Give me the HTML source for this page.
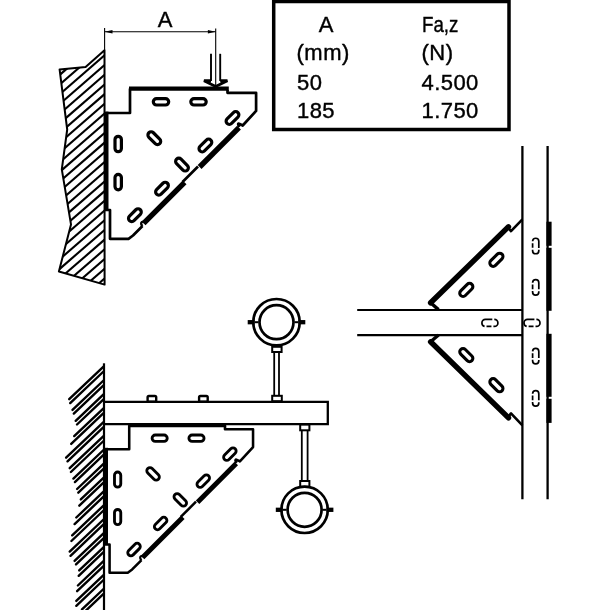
<!DOCTYPE html>
<html><head><meta charset="utf-8">
<style>
html,body{margin:0;padding:0;background:#fff;overflow:hidden;}
svg{display:block;will-change:transform;}
text{font-family:"Liberation Sans",sans-serif;fill:#000;}
</style></head>
<body>
<svg width="610" height="610" viewBox="0 0 610 610">
<defs><clipPath id="wall1"><polygon points="104.5,50.3 85.6,67.1 59.6,69.4 67.2,129.5 61.8,169.3 71,224.4 58.9,271.5 104.6,284.6"/></clipPath></defs>
<g clip-path="url(#wall1)" stroke="#000" stroke-width="2.1"><line x1="50" y1="83.3" x2="110" y2="31.2"/><line x1="50" y1="93.0" x2="110" y2="40.9"/><line x1="50" y1="102.7" x2="110" y2="50.6"/><line x1="50" y1="112.4" x2="110" y2="60.3"/><line x1="50" y1="122.1" x2="110" y2="70.0"/><line x1="50" y1="131.8" x2="110" y2="79.7"/><line x1="50" y1="141.5" x2="110" y2="89.4"/><line x1="50" y1="151.2" x2="110" y2="99.1"/><line x1="50" y1="160.9" x2="110" y2="108.8"/><line x1="50" y1="170.6" x2="110" y2="118.5"/><line x1="50" y1="180.3" x2="110" y2="128.2"/><line x1="50" y1="190.0" x2="110" y2="137.9"/><line x1="50" y1="199.7" x2="110" y2="147.6"/><line x1="50" y1="209.4" x2="110" y2="157.3"/><line x1="50" y1="219.1" x2="110" y2="167.0"/><line x1="50" y1="228.8" x2="110" y2="176.7"/><line x1="50" y1="238.5" x2="110" y2="186.4"/><line x1="50" y1="248.2" x2="110" y2="196.1"/><line x1="50" y1="257.9" x2="110" y2="205.8"/><line x1="50" y1="267.6" x2="110" y2="215.5"/><line x1="50" y1="277.3" x2="110" y2="225.2"/><line x1="50" y1="287.0" x2="110" y2="234.9"/><line x1="50" y1="296.7" x2="110" y2="244.6"/><line x1="50" y1="306.4" x2="110" y2="254.3"/><line x1="50" y1="316.1" x2="110" y2="264.0"/><line x1="50" y1="325.8" x2="110" y2="273.7"/><line x1="50" y1="335.5" x2="110" y2="283.4"/><line x1="50" y1="345.2" x2="110" y2="293.1"/><line x1="50" y1="354.9" x2="110" y2="302.8"/></g>
<polygon points="104.5,50.3 85.6,67.1 59.6,69.4 67.2,129.5 61.8,169.3 71,224.4 58.9,271.5 104.6,284.6" fill="none" stroke="#000" stroke-width="2" stroke-linejoin="round"/>
<g stroke="#000" stroke-width="1.1"><line x1="104.6" y1="28" x2="104.6" y2="50"/><line x1="215.7" y1="28.6" x2="215.7" y2="86"/><line x1="104.6" y1="31.7" x2="215.7" y2="31.7"/></g>
<polygon points="104.6,31.7 112.5,30 112.5,33.4" fill="#000"/><polygon points="215.7,31.7 207.9,30 207.9,33.4" fill="#000"/>
<text x="165" y="27" font-size="22" text-anchor="middle" stroke="#000" stroke-width="0.4">A</text>
<g fill="none" stroke="#000"><line x1="211" y1="53.8" x2="211" y2="81" stroke-width="1.9"/><line x1="220.2" y1="53.8" x2="220.2" y2="81" stroke-width="1.9"/><polyline points="211,80.8 204,80.8 215.7,86.5 227.4,80.8 220.2,80.8" stroke-width="2.9"/></g>
<g transform="" fill="none" stroke="#000"><line x1="129" y1="88.6" x2="228.8" y2="88.6" stroke-width="4.4"/><polyline points="130,88.6 130,113 106,113" stroke-width="2.7" stroke-linejoin="round"/><line x1="106.6" y1="111.6" x2="106.6" y2="210" stroke-width="3.8"/><path d="M105,210 H110 V238.8 H128.5 L133,235.5 L142.5,226" stroke-width="2.7" stroke-linejoin="round"/><path d="M142.5,226 Q140,223.5 142,222 Q144,221 145,223" stroke-width="2.29"/><path d="M227.5,90 V92.8 H256.1 V110.9 L242.7,125.5 Q240,124 238.5,123.6 Q237.5,124.5 239.5,127" stroke-width="2.7" stroke-linejoin="round"/><line x1="239" y1="127.6" x2="199.6" y2="167" stroke-width="5.4"/><line x1="198" y1="166.5" x2="182.5" y2="182" stroke-width="2.7"/><line x1="184.6" y1="182.4" x2="143.6" y2="223.4" stroke-width="5.4"/></g><g transform=""><rect x="-7.70" y="-3.20" width="15.40" height="6.40" rx="3.20" fill="none" stroke="#000" stroke-width="3.2" transform="translate(161,101.8) rotate(0)"/><rect x="-7.70" y="-3.20" width="15.40" height="6.40" rx="3.20" fill="none" stroke="#000" stroke-width="3.2" transform="translate(198.5,101.8) rotate(0)"/><rect x="-7.70" y="-3.20" width="15.40" height="6.40" rx="3.20" fill="none" stroke="#000" stroke-width="3.2" transform="translate(232.5,118) rotate(-45)"/><rect x="-7.70" y="-3.20" width="15.40" height="6.40" rx="3.20" fill="none" stroke="#000" stroke-width="3.2" transform="translate(154.3,138.2) rotate(45)"/><rect x="-7.70" y="-3.20" width="15.40" height="6.40" rx="3.20" fill="none" stroke="#000" stroke-width="3.2" transform="translate(118.2,144) rotate(90)"/><rect x="-7.70" y="-3.20" width="15.40" height="6.40" rx="3.20" fill="none" stroke="#000" stroke-width="3.2" transform="translate(205.4,145.5) rotate(-45)"/><rect x="-7.70" y="-3.20" width="15.40" height="6.40" rx="3.20" fill="none" stroke="#000" stroke-width="3.2" transform="translate(182,164.6) rotate(45)"/><rect x="-7.70" y="-3.20" width="15.40" height="6.40" rx="3.20" fill="none" stroke="#000" stroke-width="3.2" transform="translate(118.2,182.1) rotate(90)"/><rect x="-7.70" y="-3.20" width="15.40" height="6.40" rx="3.20" fill="none" stroke="#000" stroke-width="3.2" transform="translate(162,188.7) rotate(-45)"/><rect x="-7.70" y="-3.20" width="15.40" height="6.40" rx="3.20" fill="none" stroke="#000" stroke-width="3.2" transform="translate(134.9,215.2) rotate(-45)"/></g>
<g transform="matrix(0.982,0,0,0.982,1.56,338.2)" fill="none" stroke="#000"><line x1="129" y1="88.6" x2="228.8" y2="88.6" stroke-width="4.4"/><polyline points="130,88.6 130,113 106,113" stroke-width="2.6" stroke-linejoin="round"/><line x1="106.6" y1="111.6" x2="106.6" y2="210" stroke-width="3.6"/><path d="M105,210 H110 V238.8 H128.5 L133,235.5 L142.5,226" stroke-width="2.6" stroke-linejoin="round"/><path d="M142.5,226 Q140,223.5 142,222 Q144,221 145,223" stroke-width="2.21"/><path d="M227.5,90 V92.8 H256.1 V110.9 L242.7,125.5 Q240,124 238.5,123.6 Q237.5,124.5 239.5,127" stroke-width="2.6" stroke-linejoin="round"/><line x1="239" y1="127.6" x2="199.6" y2="167" stroke-width="5"/><line x1="198" y1="166.5" x2="182.5" y2="182" stroke-width="2.6"/><line x1="184.6" y1="182.4" x2="143.6" y2="223.4" stroke-width="5"/></g><g transform="matrix(0.982,0,0,0.982,1.56,338.2)"><rect x="-7.70" y="-3.20" width="15.40" height="6.40" rx="3.20" fill="none" stroke="#000" stroke-width="2.9" transform="translate(161,101.8) rotate(0)"/><rect x="-7.70" y="-3.20" width="15.40" height="6.40" rx="3.20" fill="none" stroke="#000" stroke-width="2.9" transform="translate(198.5,101.8) rotate(0)"/><rect x="-7.70" y="-3.20" width="15.40" height="6.40" rx="3.20" fill="none" stroke="#000" stroke-width="2.9" transform="translate(232.5,118) rotate(-45)"/><rect x="-7.70" y="-3.20" width="15.40" height="6.40" rx="3.20" fill="none" stroke="#000" stroke-width="2.9" transform="translate(154.3,138.2) rotate(45)"/><rect x="-7.70" y="-3.20" width="15.40" height="6.40" rx="3.20" fill="none" stroke="#000" stroke-width="2.9" transform="translate(118.2,144) rotate(90)"/><rect x="-7.70" y="-3.20" width="15.40" height="6.40" rx="3.20" fill="none" stroke="#000" stroke-width="2.9" transform="translate(205.4,145.5) rotate(-45)"/><rect x="-7.70" y="-3.20" width="15.40" height="6.40" rx="3.20" fill="none" stroke="#000" stroke-width="2.9" transform="translate(182,164.6) rotate(45)"/><rect x="-7.70" y="-3.20" width="15.40" height="6.40" rx="3.20" fill="none" stroke="#000" stroke-width="2.9" transform="translate(118.2,182.1) rotate(90)"/><rect x="-7.70" y="-3.20" width="15.40" height="6.40" rx="3.20" fill="none" stroke="#000" stroke-width="2.9" transform="translate(162,188.7) rotate(-45)"/><rect x="-7.70" y="-3.20" width="15.40" height="6.40" rx="3.20" fill="none" stroke="#000" stroke-width="2.9" transform="translate(134.9,215.2) rotate(-45)"/></g>
<rect x="273.7" y="1.5" width="235.3" height="128" fill="none" stroke="#000" stroke-width="3.5"/>
<g font-size="22" stroke="#000" stroke-width="0.4"><text x="326" y="32" text-anchor="middle">A</text><text x="296.5" y="60" letter-spacing="0.5">(mm)</text><text x="297" y="89.5" letter-spacing="0.4">50</text><text x="297" y="118" letter-spacing="0.4">185</text><text x="422" y="32" textLength="36.4" lengthAdjust="spacingAndGlyphs">Fa,z</text><text x="421.5" y="60" letter-spacing="0.5">(N)</text><text x="421.5" y="89.5" letter-spacing="0.45">4.500</text><text x="421.5" y="118" letter-spacing="0.45">1.750</text></g>
<line x1="104" y1="363.3" x2="104" y2="610" stroke="#000" stroke-width="2.2"/>
<g stroke="#000" stroke-width="2.4" stroke-linecap="round"><line x1="69.2" y1="399.2" x2="103.5" y2="366.6"/><line x1="70.2" y1="403.1" x2="103.5" y2="371.5"/><line x1="72.5" y1="409.9" x2="103.5" y2="380.5"/><line x1="73.8" y1="413.6" x2="103.5" y2="385.4"/><line x1="75.7" y1="420.8" x2="103.5" y2="394.4"/><line x1="77" y1="424.5" x2="103.5" y2="399.3"/><line x1="74.2" y1="436.1" x2="103.5" y2="408.3"/><line x1="71.2" y1="443.9" x2="103.5" y2="413.2"/><line x1="66.1" y1="457.7" x2="103.5" y2="422.2"/><line x1="67.5" y1="461.3" x2="103.5" y2="427.1"/><line x1="69.7" y1="468.2" x2="103.5" y2="436.1"/><line x1="70.9" y1="472.0" x2="103.5" y2="441.0"/><line x1="73.4" y1="478.6" x2="103.5" y2="450.0"/><line x1="74.9" y1="482.1" x2="103.5" y2="454.9"/><line x1="77.1" y1="489.0" x2="103.5" y2="463.9"/><line x1="78.3" y1="492.7" x2="103.5" y2="468.8"/><line x1="80.8" y1="499.4" x2="103.5" y2="477.8"/><line x1="79.3" y1="505.7" x2="103.5" y2="482.7"/><line x1="76.3" y1="517.5" x2="103.5" y2="491.7"/><line x1="74.6" y1="524.1" x2="103.5" y2="496.6"/><line x1="72.2" y1="535.3" x2="103.5" y2="505.6"/><line x1="71.4" y1="541.0" x2="103.5" y2="510.5"/><line x1="69.7" y1="551.6" x2="103.5" y2="519.5"/><line x1="70.5" y1="555.8" x2="103.5" y2="524.4"/><line x1="74.6" y1="560.9" x2="103.5" y2="533.4"/><line x1="76" y1="564.4" x2="103.5" y2="538.3"/><line x1="79.2" y1="570.4" x2="103.5" y2="547.3"/><line x1="78.7" y1="575.8" x2="103.5" y2="552.2"/><line x1="77.9" y1="585.5" x2="103.5" y2="561.2"/><line x1="77.1" y1="591.2" x2="103.5" y2="566.1"/><line x1="76.3" y1="600.9" x2="103.5" y2="575.1"/><line x1="76.3" y1="605.8" x2="103.5" y2="580.0"/><line x1="82" y1="609.4" x2="103.5" y2="589.0"/><line x1="80" y1="616.2" x2="103.5" y2="593.9"/></g>
<polyline points="104,401.8 327.8,401.8 327.8,424.2 104,424.2" fill="none" stroke="#000" stroke-width="2.3"/>
<rect x="147.6" y="396" width="8.6" height="5.8" rx="1.3" fill="none" stroke="#000" stroke-width="2.4"/><rect x="199.1" y="396" width="8.6" height="5.8" rx="1.3" fill="none" stroke="#000" stroke-width="2.4"/>
<circle cx="276.5" cy="322.2" r="23.2" fill="none" stroke="#000" stroke-width="2.7"/><circle cx="276.5" cy="322.2" r="17" fill="none" stroke="#000" stroke-width="2.7"/><line x1="247.7" y1="322.2" x2="254.5" y2="322.2" stroke="#000" stroke-width="4.3"/><line x1="298.5" y1="322.2" x2="305.3" y2="322.2" stroke="#000" stroke-width="4.3"/><line x1="254.5" y1="322.2" x2="258.5" y2="322.2" stroke="#000" stroke-width="2"/><line x1="294.5" y1="322.2" x2="298.5" y2="322.2" stroke="#000" stroke-width="2"/><rect x="272.2" y="346.8" width="9.4" height="5.2" fill="#fff" stroke="#000" stroke-width="2"/><line x1="274.2" y1="352" x2="274.2" y2="395.5" stroke="#000" stroke-width="1.8"/><line x1="279" y1="352" x2="279" y2="395.5" stroke="#000" stroke-width="1.8"/><rect x="272.2" y="395.8" width="9.6" height="5.4" fill="none" stroke="#000" stroke-width="2"/>
<rect x="300.2" y="424.5" width="9.2" height="5.8" fill="none" stroke="#000" stroke-width="2"/><line x1="301.8" y1="430.5" x2="301.8" y2="481" stroke="#000" stroke-width="1.8"/><line x1="307.6" y1="430.5" x2="307.6" y2="481" stroke="#000" stroke-width="1.8"/><rect x="300.2" y="481" width="9.2" height="5.8" fill="#fff" stroke="#000" stroke-width="2"/><circle cx="304.6" cy="509.8" r="23.2" fill="none" stroke="#000" stroke-width="2.7"/><circle cx="304.6" cy="509.8" r="17" fill="none" stroke="#000" stroke-width="2.7"/><line x1="275.8" y1="509.8" x2="282.6" y2="509.8" stroke="#000" stroke-width="4.3"/><line x1="326.6" y1="509.8" x2="333.40000000000003" y2="509.8" stroke="#000" stroke-width="4.3"/><line x1="282.6" y1="509.8" x2="286.6" y2="509.8" stroke="#000" stroke-width="2"/><line x1="322.6" y1="509.8" x2="326.6" y2="509.8" stroke="#000" stroke-width="2"/>
<g stroke="#000" fill="none"><line x1="522.4" y1="146" x2="522.4" y2="499.3" stroke-width="2.3"/><line x1="547.6" y1="146" x2="547.6" y2="499.3" stroke-width="2.3"/><line x1="357.2" y1="310" x2="522.4" y2="310" stroke-width="2.2"/><line x1="357.2" y1="335.1" x2="522.4" y2="335.1" stroke-width="2.2"/><polyline points="522.4,219.3 511,231.2 508.8,228.5" stroke-width="2.6" stroke-linejoin="round"/><polyline points="508.5,226.8 430.6,302.8" stroke-width="5.4" stroke-linecap="round"/><polyline points="430.6,302.8 438.5,309.6" stroke-width="3.4"/><polyline points="522.4,425.3 511,413.4 508.8,416.1" stroke-width="2.6" stroke-linejoin="round"/><polyline points="508.5,417.8 430.6,341.8" stroke-width="5.4" stroke-linecap="round"/><polyline points="430.6,341.8 438.5,335.0" stroke-width="3.4"/><line x1="549" y1="221.7" x2="549" y2="245.8" stroke-width="5.2"/><line x1="549" y1="247.8" x2="549" y2="310.8" stroke-width="5.2"/><line x1="549" y1="422.9" x2="549" y2="398.8" stroke-width="5.2"/><line x1="549" y1="396.8" x2="549" y2="333.8" stroke-width="5.2"/></g>
<rect x="-7.90" y="-3.30" width="15.80" height="6.60" rx="3.30" fill="none" stroke="#000" stroke-width="3.1" transform="translate(496.4,259.8) rotate(-45)"/><rect x="-7.90" y="-3.30" width="15.80" height="6.60" rx="3.30" fill="none" stroke="#000" stroke-width="3.1" transform="translate(466.3,289.9) rotate(-45)"/><rect x="-7.90" y="-3.30" width="15.80" height="6.60" rx="3.30" fill="none" stroke="#000" stroke-width="3.1" transform="translate(466.3,355.1) rotate(45)"/><rect x="-7.90" y="-3.30" width="15.80" height="6.60" rx="3.30" fill="none" stroke="#000" stroke-width="3.1" transform="translate(496.4,385.2) rotate(45)"/><rect x="-7.75" y="-3.10" width="15.50" height="6.20" rx="3.10" fill="none" stroke="#000" stroke-width="1.7" stroke-dasharray="17 2 12 2 5 2" stroke-dashoffset="10" pathLength="40" transform="translate(535.7,246) rotate(90)"/><rect x="-7.75" y="-3.10" width="15.50" height="6.20" rx="3.10" fill="none" stroke="#000" stroke-width="1.7" stroke-dasharray="17 2 12 2 5 2" stroke-dashoffset="10" pathLength="40" transform="translate(535.7,287.4) rotate(90)"/><rect x="-7.75" y="-3.10" width="15.50" height="6.20" rx="3.10" fill="none" stroke="#000" stroke-width="1.7" stroke-dasharray="17 2 12 2 5 2" stroke-dashoffset="10" pathLength="40" transform="translate(535.7,356.1) rotate(90)"/><rect x="-7.75" y="-3.10" width="15.50" height="6.20" rx="3.10" fill="none" stroke="#000" stroke-width="1.7" stroke-dasharray="17 2 12 2 5 2" stroke-dashoffset="10" pathLength="40" transform="translate(535.7,398.4) rotate(90)"/><rect x="-8.00" y="-3.50" width="16.00" height="7.00" rx="3.50" fill="none" stroke="#000" stroke-width="1.7" stroke-dasharray="17 2 12 2 5 2" stroke-dashoffset="10" pathLength="40" transform="translate(489.9,322.9) rotate(0)"/><rect x="-8.00" y="-3.50" width="16.00" height="7.00" rx="3.50" fill="none" stroke="#000" stroke-width="1.7" stroke-dasharray="17 2 12 2 5 2" stroke-dashoffset="10" pathLength="40" transform="translate(532,322.9) rotate(0)"/>
</svg>
</body></html>
